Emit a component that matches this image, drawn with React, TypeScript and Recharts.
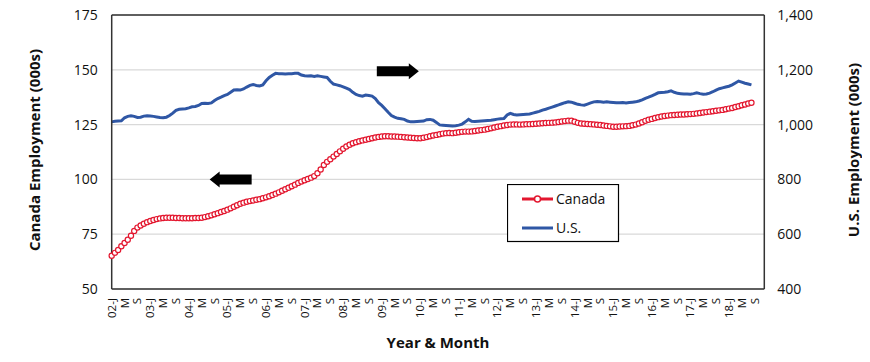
import React from 'react';
import { LineChart, Line, XAxis, YAxis, CartesianGrid, Legend, ReferenceDot, ReferenceLine, Label } from 'recharts';

// Months Jan 2002 .. Dec 2018 (axis categories); data run Jan 2002 .. Aug 2018
const START_YEAR = 2002;
const END_YEAR = 2018;
const MONTH_LETTERS = ['J', 'F', 'M', 'A', 'M', 'J', 'J', 'A', 'S', 'O', 'N', 'D'];

const canada: number[] = [
  // 2002
  65.2, 66.5, 67.8, 69.5, 71.0, 72.5, 74.3, 76.5, 78.0, 79.0, 79.8, 80.5,
  // 2003
  81.0, 81.5, 81.9, 82.2, 82.4, 82.5, 82.5, 82.5, 82.4, 82.4, 82.3, 82.3,
  // 2004
  82.3, 82.3, 82.4, 82.4, 82.5, 82.8, 83.2, 83.6, 84.1, 84.6, 85.1, 85.6,
  // 2005
  86.2, 86.8, 87.5, 88.2, 88.9, 89.4, 89.8, 90.1, 90.4, 90.7, 91.0, 91.4,
  // 2006
  91.8, 92.3, 92.9, 93.5, 94.1, 94.8, 95.5, 96.2, 96.9, 97.6, 98.4, 99.0,
  // 2007
  99.6, 100.2, 100.8, 101.5, 102.8, 104.5, 106.6, 108.0, 109.2, 110.4, 111.6, 112.8,
  // 2008
  114.0, 115.0, 115.8, 116.5, 117.0, 117.4, 117.8, 118.1, 118.4, 118.8, 119.1, 119.4,
  // 2009
  119.6, 119.7, 119.7, 119.6, 119.6, 119.5, 119.4, 119.2, 119.1, 119.0, 118.9, 118.8,
  // 2010
  118.8, 119.0, 119.3, 119.7, 120.0, 120.3, 120.6, 120.9, 121.1, 121.2, 121.1, 121.3,
  // 2011
  121.5, 121.7, 121.8, 121.8, 121.9, 122.1, 122.3, 122.5, 122.7, 123.0, 123.3, 123.7,
  // 2012
  124.0, 124.3, 124.6, 124.8, 125.0, 125.1, 125.1, 125.0, 125.1, 125.2, 125.2, 125.3,
  // 2013
  125.4, 125.5, 125.6, 125.7, 125.8, 125.9, 126.0, 126.2, 126.4, 126.6, 126.8, 126.8,
  // 2014
  126.3, 125.8, 125.5, 125.4, 125.3, 125.2, 125.1, 124.9, 124.8, 124.6, 124.4, 124.2,
  // 2015
  124.0, 124.0, 124.1, 124.2, 124.3, 124.4, 124.7, 125.0, 125.5, 126.1, 126.7, 127.2,
  // 2016
  127.6, 128.0, 128.4, 128.7, 128.9, 129.1, 129.3, 129.4, 129.5, 129.6, 129.6, 129.7,
  // 2017
  129.8, 129.9, 130.1, 130.3, 130.5, 130.7, 130.9, 131.1, 131.3, 131.5, 131.7, 132.0,
  // 2018
  132.3, 132.6, 133.0, 133.4, 133.8, 134.2, 134.6, 135.0,
];

const us: number[] = [
  // 2002
  1010, 1012, 1013, 1014, 1025, 1030, 1032, 1030, 1026, 1027, 1031, 1032,
  // 2003
  1031, 1030, 1028, 1026, 1025, 1027, 1033, 1042, 1052, 1056, 1057, 1058,
  // 2004
  1061, 1065, 1066, 1070, 1077, 1078, 1077, 1079, 1088, 1095, 1100, 1106,
  // 2005
  1110, 1118, 1126, 1127, 1126, 1130, 1137, 1143, 1146, 1143, 1141, 1145,
  // 2006
  1160, 1172, 1180, 1187, 1186, 1186, 1185, 1186, 1186, 1187, 1187, 1181,
  // 2007
  1178, 1177, 1178, 1176, 1178, 1176, 1174, 1172, 1158, 1148, 1145, 1142,
  // 2008
  1138, 1133, 1128, 1118, 1110, 1106, 1104, 1108, 1106, 1104, 1095, 1080,
  // 2009
  1070, 1058, 1045, 1033, 1027, 1023, 1021, 1019, 1013, 1010, 1010, 1011,
  // 2010
  1012, 1013, 1018, 1019, 1016, 1008, 999, 998, 997, 996, 995, 996,
  // 2011
  998, 1002, 1010, 1019, 1012, 1011, 1012, 1013, 1014, 1015, 1016, 1018,
  // 2012
  1020, 1021, 1022, 1035, 1041, 1037, 1035, 1036, 1037, 1038, 1039, 1042,
  // 2013
  1045, 1048, 1053, 1056, 1060, 1064, 1068, 1072, 1076, 1080, 1083, 1082,
  // 2014
  1078, 1074, 1072, 1071, 1075, 1079, 1083, 1084, 1083, 1082, 1083, 1082,
  // 2015
  1081, 1080, 1080, 1081, 1079, 1081, 1082, 1083, 1086, 1090, 1096, 1100,
  // 2016
  1105, 1110, 1116, 1117, 1118, 1120, 1123, 1118, 1114, 1113, 1112, 1112,
  // 2017
  1111, 1113, 1116, 1113, 1111, 1112, 1115, 1120, 1126, 1131, 1134, 1137,
  // 2018
  1140, 1145, 1152, 1159, 1155, 1151, 1148, 1145,
];

const leftTicks = [50, 75, 100, 125, 150, 175];
const rightTicks = [400, 600, 800, 1000, 1200, 1400];

const months: string[] = [];
for (let y = START_YEAR; y <= END_YEAR; y++) {
  for (let m = 1; m <= 12; m++) months.push(`${y}-${String(m).padStart(2, '0')}`);
}

const data = months.map((month, i) => ({
  month,
  canada: i < canada.length ? canada[i] : null,
  us: i < us.length ? us[i] : null,
}));

const RED = '#e3172f';
const BLUE = '#2f57a5';
const FONT = '"Open Sans", sans-serif';

const monthLabel = (v: string) => {
  const [y, m] = v.split('-');
  const mi = Number(m) - 1;
  return mi === 0 ? `${y.slice(2)}-${MONTH_LETTERS[mi]}` : MONTH_LETTERS[mi];
};

const XTick = (props: any) => {
  const { x, y, payload } = props;
  return (
    <text
      x={x}
      y={y}
      transform={`rotate(-90, ${x}, ${y})`}
      textAnchor="end"
      dy="0.35em"
      fontSize={11.5}
      fontFamily={FONT}
      fill="#111"
    >
      {monthLabel(payload.value)}
    </text>
  );
};

const arrowShape = (dir: 1 | -1) => (props: any) => {
  const { cx, cy } = props;
  const p = [
    [-21, -5], [11, -5], [11, -8], [21, 0], [11, 8], [11, 5], [-21, 5],
  ]
    .map(([dx, dy]) => `${cx + dir * dx},${cy + dy}`)
    .join(' ');
  return <polygon points={p} fill="#000" />;
};

const LegendBox = (props: any) => {
  const items = props.payload || [];
  return (
    <svg width={113} height={59} style={{ display: 'block' }}>
      <rect x={0.5} y={0.5} width={111} height={57} fill="#fff" stroke="#000" strokeWidth={1.2} />
      {items.map((it: any, i: number) => {
        const cy = i === 0 ? 15 : 44;
        return (
          <g key={it.value}>
            <line x1={15} x2={46} y1={cy} y2={cy} stroke={it.color} strokeWidth={3} />
            {i === 0 && <circle cx={30.5} cy={cy} r={3} fill="#fff" stroke={it.color} strokeWidth={1.5} />}
            <text x={49} y={cy} dy="0.35em" fontSize={14} fontFamily={FONT} fill="#111">
              {it.value}
            </text>
          </g>
        );
      })}
    </svg>
  );
};

export default function App() {
  return (
    <div style={{ margin: '-8px 0 0 -8px', width: 870, height: 362 }}>
      <LineChart
        width={870}
        height={362}
        data={data}
        margin={{ top: 15, right: 0, left: 0, bottom: 0 }}
        style={{ fontFamily: FONT }}
      >
        <CartesianGrid vertical={false} stroke="#d9d9d9" strokeWidth={1.3} yAxisId="left" />
        <XAxis
          dataKey="month"
          interval={3}
          tick={<XTick />}
          tickLine={false}
          tickSize={0}
          tickMargin={9}
          height={73}
          axisLine={{ stroke: '#333', strokeWidth: 1.5 }}
        >
          <Label
            content={(p: any) => {
              const vb = p.viewBox;
              return (
                <text x={vb.x + vb.width / 2} y={vb.y + 59} textAnchor="middle" fontSize={15} fontWeight="bold" fontFamily={FONT} fill="#111">
                  Year &amp; Month
                </text>
              );
            }}
          />
        </XAxis>
        <YAxis
          yAxisId="left"
          domain={[50, 175]}
          ticks={leftTicks}
          width={111.7}
          tickLine={false}
          tickSize={0}
          tickMargin={14}
          axisLine={{ stroke: '#333', strokeWidth: 1.5 }}
          tick={{ fontSize: 14, fill: '#111', fontFamily: FONT }}
        >
          <Label
            content={(p: any) => {
              const vb = p.viewBox;
              const cx = vb.x + 35;
              const cy = vb.y + vb.height / 2 - 2;
              return (
                <text x={cx} y={cy} transform={`rotate(-90, ${cx}, ${cy})`} textAnchor="middle" dy="0.35em" fontSize={15} fontWeight="bold" fontFamily={FONT} fill="#111">
                  Canada Employment (000s)
                </text>
              );
            }}
          />
        </YAxis>
        <YAxis
          yAxisId="right"
          orientation="right"
          domain={[400, 1400]}
          ticks={rightTicks}
          width={105.7}
          tickLine={false}
          tickSize={0}
          tickMargin={13}
          axisLine={{ stroke: '#333', strokeWidth: 1.5 }}
          tick={{ fontSize: 14, fill: '#111', fontFamily: FONT }}
          tickFormatter={(v: number) => v.toLocaleString('en-US')}
        >
          <Label
            content={(p: any) => {
              const vb = p.viewBox;
              const cx = vb.x + 89;
              const cy = vb.y + vb.height / 2 - 2;
              return (
                <text x={cx} y={cy} transform={`rotate(-90, ${cx}, ${cy})`} textAnchor="middle" dy="0.35em" fontSize={15} fontWeight="bold" fontFamily={FONT} fill="#111">
                  U.S. Employment (000s)
                </text>
              );
            }}
          />
        </YAxis>
        <ReferenceLine yAxisId="left" y={175} stroke="#333" strokeWidth={1.5} />
        <Line
          yAxisId="right"
          dataKey="us"
          name="U.S."
          stroke={BLUE}
          strokeWidth={3}
          dot={false}
          isAnimationActive={false}
        />
        <Line
          yAxisId="left"
          dataKey="canada"
          name="Canada"
          stroke={RED}
          strokeWidth={1.5}
          dot={{ r: 2.6, fill: '#fff', stroke: RED, strokeWidth: 1.2 }}
          isAnimationActive={false}
        />
        <ReferenceDot yAxisId="right" x="2009-06" y={1195} shape={arrowShape(1)} ifOverflow="visible" />
        <ReferenceDot yAxisId="left" x="2005-02" y={100} shape={arrowShape(-1)} ifOverflow="visible" />
        <Legend
          layout="vertical"
          align="center"
          verticalAlign="middle"
          content={<LegendBox />}
          wrapperStyle={{ position: 'absolute', left: 507, top: 184, width: 113, height: 59 }}
        />
      </LineChart>
    </div>
  );
}
